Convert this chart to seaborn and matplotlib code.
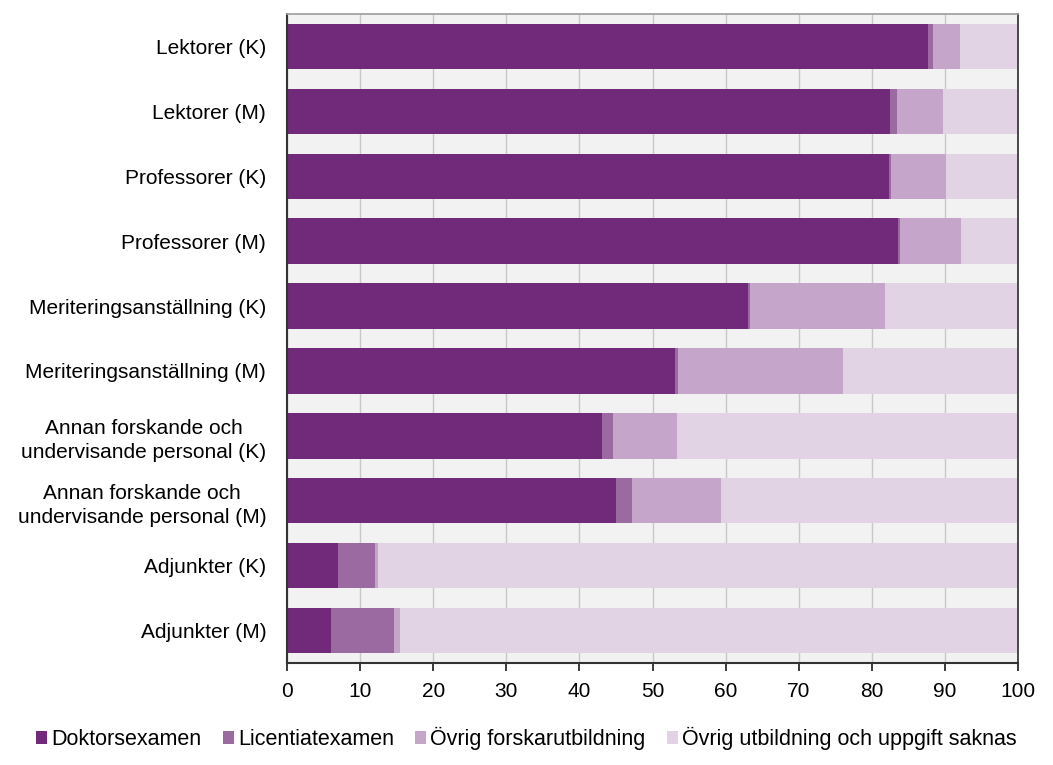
import pandas as pd
import numpy as np
import seaborn as sns
import matplotlib.pyplot as plt
from matplotlib.patches import Patch

# --- DATA ---
categories = [
    "Lektorer (K)", "Lektorer (M)", "Professorer (K)", "Professorer (M)",
    "Meriteringsanställning (K)", "Meriteringsanställning (M)",
    "Annan forskande och\nundervisande personal (K)",
    "Annan forskande och\nundervisande personal (M)",
    "Adjunkter (K)", "Adjunkter (M)",
]
doktor = [87.7, 82.5, 82.4, 83.6, 63.1, 53.1, 43.1, 45.0, 7.0, 6.0]
licentiat = [0.6, 0.9, 0.2, 0.2, 0.2, 0.4, 1.5, 2.2, 5.0, 8.6]
ovrig_forsk = [3.8, 6.4, 7.6, 8.4, 18.5, 22.6, 8.8, 12.2, 0.4, 0.8]
series = ["Doktorsexamen", "Licentiatexamen", "Övrig forskarutbildning",
          "Övrig utbildning och uppgift saknas"]
colors = ["#71297a", "#9b6aa1", "#c5a6ca", "#e1d3e3"]
xticks = list(range(0, 101, 10))

df = pd.DataFrame({"Kategori": categories, "dok": doktor,
                   "lic": licentiat, "forsk": ovrig_forsk})
df["c1"] = df["dok"]
df["c2"] = df["c1"] + df["lic"]
df["c3"] = df["c2"] + df["forsk"]
df["c4"] = 100.0

sns.set_theme(style="white")
plt.rcParams['font.family'] = ['Liberation Sans', 'DejaVu Sans']

fig = plt.figure(figsize=(10.53, 7.65), dpi=100)
ax = fig.add_axes([0.2726, 0.1333, 0.6942, 0.8484])
ax.set_facecolor("#f2f2f2")

# stacked bars: draw cumulative totals back to front
for col, c in zip(["c4", "c3", "c2", "c1"], colors[::-1]):
    sns.barplot(data=df, x=col, y="Kategori", orient="h", color=c,
                width=0.7, saturation=1, linewidth=0, ax=ax)

ax.set_xlim(0, 100)
ax.set_xticks(xticks)
ax.set_xlabel("")
ax.set_ylabel("")
ax.xaxis.grid(True, color="#c8c8c8", linewidth=1)
ax.set_axisbelow(True)
ax.tick_params(axis="x", labelsize=15, bottom=True, length=6, color="#222222",
               labelcolor="black", pad=8)
ax.tick_params(axis="y", labelsize=15, left=False, pad=9, labelcolor="black")
for lbl in ax.get_yticklabels():
    lbl.set_multialignment("center")
    lbl.set_linespacing(1.35)

for s in ["left", "bottom"]:
    ax.spines[s].set_color("#333333")
    ax.spines[s].set_linewidth(1.5)
ax.spines["right"].set_color("#333333")
ax.spines["top"].set_color("#a0a0a0")

handles = [Patch(facecolor=c, edgecolor="none", label=s) for s, c in zip(series, colors)]
leg = fig.legend(handles=handles, loc="lower center", bbox_to_anchor=(0.5, -0.006), ncol=4,
                 frameon=False, fontsize=15.5, handlelength=0.5, handleheight=0.5,
                 handletextpad=0.2, columnspacing=1.0)
for t in leg.get_texts():
    t.set_color("black")

fig.savefig("out.png", dpi=100)
